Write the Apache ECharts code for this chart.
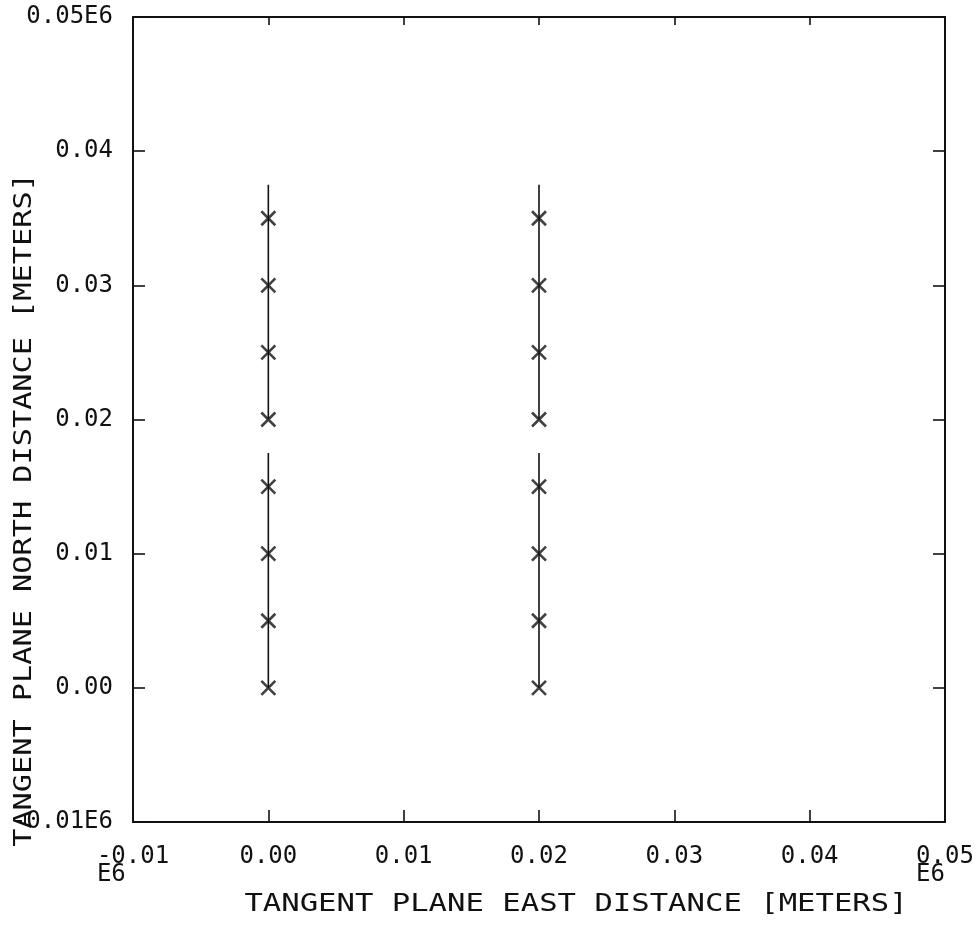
<!DOCTYPE html>
<html>
<head>
<meta charset="utf-8">
<script src="https://cdn.jsdelivr.net/npm/echarts@6/dist/echarts.min.js"></script>
<style>
  html, body { margin: 0; padding: 0; background: #fff; }
  #chart { width: 980px; height: 933px; }
</style>
</head>
<body>
<div id="chart"></div>
<script>
// Survey grid: two east columns, marks every 5 mm of north distance
const eastColumns = [0.00, 0.02];
const northMarks = [0.000, 0.005, 0.010, 0.015, 0.020, 0.025, 0.030, 0.035];
// Traced line segments along each column (north start, north end)
const northSegments = [[0.0375, 0.0200], [0.0175, 0.0000]];

const axisMin = -0.01;
const axisMax = 0.05;
const axisStep = 0.01;

const xTitle = 'TANGENT PLANE EAST DISTANCE [METERS]';
const yTitle = 'TANGENT PLANE NORTH DISTANCE [METERS]';

const FONT = '"DejaVu Sans Mono", "Liberation Mono", monospace';
const INK = '#111';

function fmt(v) {
  return (Math.round(v * 100) / 100).toFixed(2);
}
function isEnd(v) {
  return Math.abs(v - axisMin) < 1e-9 || Math.abs(v - axisMax) < 1e-9;
}

const series = [];
eastColumns.forEach(function (e) {
  northSegments.forEach(function (seg) {
    series.push({
      type: 'line',
      data: [[e, seg[0]], [e, seg[1]]],
      symbol: 'none',
      lineStyle: { color: INK, width: 1.6 },
      silent: true
    });
  });
});
series.push({
  type: 'scatter',
  data: eastColumns.flatMap(function (e) {
    return northMarks.map(function (n) { return [e, n]; });
  }),
  symbol: 'path://M0,0L10,10M10,0L0,10',
  symbolSize: 14,
  itemStyle: { color: 'transparent', borderColor: INK, borderWidth: 2.6 },
  silent: true
});

const tickBase = {
  min: axisMin, max: axisMax, interval: axisStep,
  splitLine: { show: false },
  axisLine: { show: true, onZero: false, lineStyle: { color: INK, width: 2 } },
  axisTick: { show: true, inside: true, length: 12, lineStyle: { color: INK, width: 1.6 } }
};

const chart = echarts.init(document.getElementById('chart'));
chart.setOption({
  animation: false,
  backgroundColor: '#fff',
  grid: { left: 133, right: 35, top: 17, bottom: 111 },
  xAxis: [
    Object.assign({}, tickBase, {
      type: 'value', position: 'bottom',
      axisLabel: {
        margin: 26, color: INK, fontFamily: FONT, fontSize: 24, lineHeight: 18,
        showMinLabel: true, showMaxLabel: true,
        formatter: function (v) {
          const s = fmt(v);
          if (isEnd(v)) return s + '\n' + 'E6' + '\u00a0'.repeat(s.length - 2);
          return s;
        }
      }
    }),
    Object.assign({}, tickBase, {
      type: 'value', position: 'top',
      axisLabel: { show: false },
      axisTick: { show: true, inside: true, length: 8, lineStyle: { color: INK, width: 1.6 } }
    })
  ],
  yAxis: [
    Object.assign({}, tickBase, {
      type: 'value', position: 'left',
      axisLabel: {
        margin: 20, color: INK, fontFamily: FONT, fontSize: 24,
        showMinLabel: true, showMaxLabel: true,
        formatter: function (v) {
          const s = fmt(v);
          return isEnd(v) ? s + 'E6' : s;
        }
      }
    }),
    Object.assign({}, tickBase, {
      type: 'value', position: 'right',
      axisLabel: { show: false }
    })
  ],
  series: series,
  graphic: [
    {
      type: 'text', x: 576, y: 905, scaleX: 1.275,
      style: { text: xTitle, font: '24px ' + FONT, fill: INK, textAlign: 'center', textVerticalAlign: 'middle' }
    },
    {
      type: 'text', x: 25, y: 510, rotation: Math.PI / 2, scaleX: 1.26,
      style: { text: yTitle, font: '24px ' + FONT, fill: INK, textAlign: 'center', textVerticalAlign: 'middle' }
    }
  ]
});
</script>
</body>
</html>
